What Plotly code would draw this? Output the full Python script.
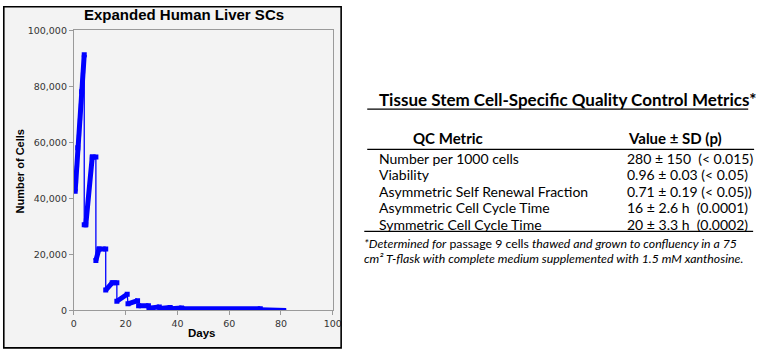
import plotly.graph_objects as go

# ---------------- data ----------------
day = [0.5, 1.5, 3.0, 4.0,
       4.0, 4.6, 7.1, 8.5,
       8.5, 9.7, 12.3,
       12.3, 14.8, 16.6,
       16.6, 20.6,
       20.9, 24.6,
       25.0, 28.8,
       29.0, 33.0,
       33.2, 37.2,
       37.4, 41.6,
       41.8, 72.0]
cells = [42500, 58000, 78000, 91200,
         30500, 30500, 54700, 54700,
         17800, 21900, 21900,
         7200, 9800, 9800,
         3200, 5700,
         2300, 3400,
         1600, 1600,
         700, 1200,
         600, 1000,
         500, 800,
         500, 500]
tail_day = [72.0, 82.0]
tail_cells = [500, 300]

x_ticks = [0, 20, 40, 60, 80, 100]
y_ticks = [0, 20000, 40000, 60000, 80000, 100000]

chart_title = "Expanded Human Liver SCs"
x_title = "Days"
y_title = "Number of Cells"

table_title = "Tissue Stem Cell-Specific Quality Control Metrics*"
col_headers = ["QC Metric", "Value ± SD (p)"]
metrics = ["Number per 1000 cells", "Viability", "Asymmetric Self Renewal Fraction",
           "Asymmetric Cell Cycle Time", "Symmetric Cell Cycle Time"]
values = ["280 ± 150\u00a0\u00a0(< 0.015)", "0.96 ± 0.03 (< 0.05)", "0.71 ± 0.19 (< 0.05))",
          "16 ± 2.6 h\u00a0\u00a0(0.0001)", "20 ± 3.3 h\u00a0\u00a0(0.0002)"]
footnote = ["<i>*Determined for</i> passage 9 cells <i>thawed and grown to confluency in a 75</i>",
            "<i>cm² T-flask with complete medium supplemented with 1.5 mM xanthosine.</i>"]

W, H = 770, 354
BLUE = "#0000ff"


def fx(px):
    return px / W


def fy(py):
    return 1 - py / H


# thick growth segments: break wherever the count drops (passage)
thick_x, thick_y = [], []
for i in range(len(day)):
    if i > 0 and cells[i] < cells[i - 1]:
        thick_x.append(None)
        thick_y.append(None)
    thick_x.append(day[i])
    thick_y.append(cells[i])

fig = go.Figure()
fig.add_trace(go.Scatter(x=day + tail_day[1:], y=cells + tail_cells[1:], mode="lines",
                         line=dict(color=BLUE, width=1.3), hoverinfo="skip", showlegend=False))
fig.add_trace(go.Scatter(x=tail_day, y=tail_cells, mode="lines",
                         line=dict(color=BLUE, width=3), hoverinfo="skip", showlegend=False))
fig.add_trace(go.Scatter(x=thick_x, y=thick_y, mode="lines+markers", connectgaps=False,
                         line=dict(color=BLUE, width=5),
                         marker=dict(symbol="square", size=5, color=BLUE, line=dict(width=0)),
                         hoverinfo="skip", showlegend=False))

axis_common = dict(showgrid=False, zeroline=False, showline=True, linecolor="#9a9a9a", linewidth=1,
                   mirror=True, ticks="outside", ticklen=4, tickcolor="#9a9a9a",
                   tickfont=dict(family="DejaVu Sans", size=9.5, color="#333333"))
fig.update_xaxes(range=[0, 100], tickvals=x_ticks, domain=[fx(72), fx(335)], **axis_common)
fig.update_yaxes(range=[0, 100000], tickvals=y_ticks, tickformat=",d",
                 domain=[fy(314), fy(25)], **axis_common)

shapes = [
    dict(type="rect", xref="paper", yref="paper", x0=0, x1=fx(343.5), y0=0, y1=1,
         fillcolor="#f3f3f3", line=dict(width=0), layer="below"),
    dict(type="rect", xref="paper", yref="paper", x0=fx(344.3), x1=1, y0=0, y1=1,
         fillcolor="white", line=dict(width=0), layer="above"),
    dict(type="rect", xref="paper", yref="paper", x0=fx(0.8), x1=fx(343.5), y0=fy(352.8), y1=fy(0.8),
         line=dict(color="black", width=1.6), fillcolor="rgba(0,0,0,0)", layer="above"),
    dict(type="line", xref="paper", yref="paper", x0=fx(370), x1=fx(757), y0=fy(106.5), y1=fy(106.5),
         line=dict(color="black", width=1.2)),
    dict(type="line", xref="paper", yref="paper", x0=fx(370), x1=fx(763), y0=fy(148), y1=fy(148),
         line=dict(color="black", width=1.4)),
    dict(type="line", xref="paper", yref="paper", x0=fx(367), x1=fx(762), y0=fy(232.5), y1=fy(232.5),
         line=dict(color="black", width=1.2)),
]

ann = []
ann.append(dict(text="<b>" + chart_title + "</b>", x=fx(183.5), y=fy(8.5), xanchor="center", yanchor="middle",
                font=dict(family="Liberation Sans, Arial", size=15, color="black")))
ann.append(dict(text="<b>" + x_title + "</b>", x=fx(202), y=fy(337), xanchor="center", yanchor="middle",
                font=dict(family="Liberation Sans, Arial", size=11.5, color="black")))
ann.append(dict(text="<b>" + y_title + "</b>", x=fx(17.5), y=fy(170.5), xanchor="center", yanchor="middle",
                textangle=-90, font=dict(family="Liberation Sans, Arial", size=11, color="black")))

ann.append(dict(text="<b>" + table_title + "</b>", x=fx(380), y=fy(96.5), xanchor="left", yanchor="middle",
                font=dict(family="Lato", size=17, color="black")))
ann.append(dict(text="<b>" + col_headers[0] + "</b>", x=fx(452), y=fy(136.5), xanchor="center", yanchor="middle",
                font=dict(family="Lato", size=15, color="black")))
ann.append(dict(text="<b>" + col_headers[1] + "</b>", x=fx(633), y=fy(136.5), xanchor="left", yanchor="middle",
                font=dict(family="Lato", size=15, color="black")))
row_y = [157, 174, 191, 208, 225]
for m, v, ry in zip(metrics, values, row_y):
    ann.append(dict(text=m, x=fx(380), y=fy(ry), xanchor="left", yanchor="middle",
                    font=dict(family="Lato", size=14, color="black")))
    ann.append(dict(text=v, x=fx(632), y=fy(ry), xanchor="left", yanchor="middle",
                    font=dict(family="Lato", size=14, color="black")))
for line, ly in zip(footnote, [245, 261]):
    ann.append(dict(text=line, x=fx(365), y=fy(ly), xanchor="left", yanchor="middle",
                    font=dict(family="Lato", size=12.3, color="black")))

for a in ann:
    a.update(xref="paper", yref="paper", showarrow=False)

fig.update_layout(width=W, height=H, autosize=False, margin=dict(l=0, r=0, t=0, b=0, pad=0),
                  paper_bgcolor="white", plot_bgcolor="white", shapes=shapes, annotations=ann,
                  showlegend=False)

fig.write_html("out.html")
